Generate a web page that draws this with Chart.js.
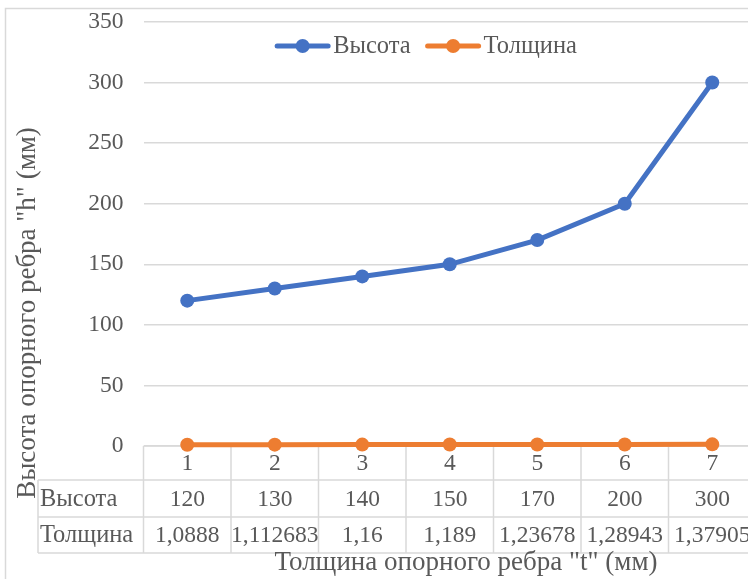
<!DOCTYPE html>
<html>
<head>
<meta charset="utf-8">
<script src="https://cdn.jsdelivr.net/npm/chart.js@4.4.1/dist/chart.umd.min.js"></script>
<style>
    html, body { margin: 0; padding: 0; background: #fff; }
    .wrap { width: 748px; height: 579px; overflow: hidden; position: relative; }
    #chart { position: absolute; left: 0; top: 0; }
</style>
</head>
<body>
<div class="wrap">
    <canvas id="chart" width="780" height="579"></canvas>
</div>
<script>
// data
const categories = ['1', '2', '3', '4', '5', '6', '7'];
const heightValues = [120, 130, 140, 150, 170, 200, 300];
const thicknessValues = [1.0888, 1.112683, 1.16, 1.189, 1.23678, 1.28943, 1.37905];
const thicknessLabels = ['1,0888', '1,112683', '1,16', '1,189', '1,23678', '1,28943', '1,37905'];
const yTicks = [0, 50, 100, 150, 200, 250, 300, 350];

const seriesNames = ['Высота', 'Толщина'];
const colors = ['#4472C4', '#ED7D31'];
const yTitle = 'Высота опорного ребра "h" (мм)';
const xTitle = 'Толщина опорного ребра "t" (мм)';

const FAMILY = "'Liberation Serif', 'Times New Roman', serif";
const NUM_FONT = "23.5px " + FAMILY;
const WORD_FONT = "24.5px " + FAMILY;
const TITLE_FONT = "27px " + FAMILY;
const TEXT = '#595959';
const GRID = '#d9d9d9';

// data table under the plot + legend + axis titles (excel style)
const extras = {
    id: 'extras',
    beforeDraw(chart) {
        const ctx = chart.ctx;
        ctx.save();
        ctx.fillStyle = '#fff';
        ctx.fillRect(0, 0, chart.width, chart.height);
        ctx.strokeStyle = GRID;
        ctx.lineWidth = 1.5;
        ctx.strokeRect(5.5, 8.5, 1000, 1000);
        ctx.restore();
    },
    beforeDatasetsDraw(chart) {
        const ctx = chart.ctx;
        const xs = chart.scales.x;
        const area = chart.chartArea;
        const step = (area.right - area.left) / categories.length;
        const rows = [area.bottom, 480, 517, 553];
        const headLeft = 38;

        ctx.save();
        ctx.strokeStyle = GRID;
        ctx.lineWidth = 1.5;
        ctx.beginPath();
        // horizontal lines
        ctx.moveTo(area.left, rows[0]); ctx.lineTo(area.right, rows[0]);
        for (let r = 1; r < rows.length; r++) {
            ctx.moveTo(headLeft, rows[r]); ctx.lineTo(area.right, rows[r]);
        }
        // vertical lines
        for (let i = 0; i <= categories.length; i++) {
            const x = area.left + i * step;
            ctx.moveTo(x, rows[0]); ctx.lineTo(x, rows[3]);
        }
        ctx.moveTo(headLeft, rows[1]); ctx.lineTo(headLeft, rows[3]);
        ctx.stroke();

        ctx.fillStyle = TEXT;
        ctx.font = NUM_FONT;
        ctx.textBaseline = 'middle';
        ctx.textAlign = 'center';
        categories.forEach((c, i) => {
            const x = xs.getPixelForValue(i);
            ctx.fillText(c, x, (rows[0] + rows[1]) / 2 + 1);
            ctx.fillText(String(heightValues[i]), x, (rows[1] + rows[2]) / 2 + 1);
            ctx.fillText(thicknessLabels[i], x, (rows[2] + rows[3]) / 2 + 1);
        });
        ctx.font = WORD_FONT;
        ctx.textAlign = 'left';
        ctx.fillText(seriesNames[0], 40, (rows[1] + rows[2]) / 2 + 1);
        ctx.fillText(seriesNames[1], 40, (rows[2] + rows[3]) / 2 + 1);
        ctx.restore();
    },
    afterDraw(chart) {
        const ctx = chart.ctx;
        ctx.save();
        ctx.font = WORD_FONT;
        ctx.fillStyle = TEXT;
        ctx.textBaseline = 'middle';

        // legend
        const sample = 55, gapText = 3, gapItem = 15;
        const widths = seriesNames.map(n => sample + gapText + ctx.measureText(n).width);
        const total = widths[0] + gapItem + widths[1];
        let x = 426 - total / 2;
        const ly = 46;
        seriesNames.forEach((n, i) => {
            ctx.strokeStyle = colors[i];
            ctx.lineWidth = 5;
            ctx.lineCap = 'round';
            ctx.beginPath();
            ctx.moveTo(x + 2, ly); ctx.lineTo(x + sample - 2, ly);
            ctx.stroke();
            ctx.fillStyle = colors[i];
            ctx.beginPath();
            ctx.arc(x + sample / 2, ly, 7, 0, Math.PI * 2);
            ctx.fill();
            ctx.fillStyle = TEXT;
            ctx.textAlign = 'left';
            ctx.fillText(n, x + sample + gapText, ly + 1);
            x += widths[i] + gapItem;
        });

        // axis titles
        ctx.font = TITLE_FONT;
        ctx.textAlign = 'center';
        ctx.fillText(xTitle, 466, 563);
        ctx.translate(28, 313);
        ctx.rotate(-Math.PI / 2);
        ctx.fillText(yTitle, 0, 0);
        ctx.restore();
    }
};

new Chart(document.getElementById('chart'), {
    type: 'line',
    data: {
        labels: categories,
        datasets: [
            {
                label: seriesNames[0],
                data: heightValues,
                borderColor: colors[0],
                backgroundColor: colors[0],
                borderWidth: 5,
                pointRadius: 7,
                pointBorderWidth: 0,
                pointBackgroundColor: colors[0],
                tension: 0,
                clip: false
            },
            {
                label: seriesNames[1],
                data: thicknessValues,
                borderColor: colors[1],
                backgroundColor: colors[1],
                borderWidth: 5,
                pointRadius: 7,
                pointBorderWidth: 0,
                pointBackgroundColor: colors[1],
                tension: 0,
                clip: false
            }
        ]
    },
    options: {
        responsive: false,
        animation: false,
        devicePixelRatio: 1,
        layout: { padding: { left: 0, top: 22, right: 24, bottom: 133 } },
        plugins: {
            legend: { display: false },
            tooltip: { enabled: false }
        },
        scales: {
            x: {
                display: false,
                offset: true
            },
            y: {
                min: 0,
                max: 350,
                afterBuildTicks: (scale) => { scale.ticks = yTicks.map(v => ({ value: v })); },
                afterFit: (scale) => {
                    scale.width = 143.5;
                    scale.paddingTop = 0;
                    scale.paddingBottom = 0;
                },
                ticks: {
                    color: TEXT,
                    padding: 20,
                    font: { family: FAMILY, size: 23.5 }
                },
                grid: { color: GRID, lineWidth: 1.5, drawTicks: false },
                border: { display: false }
            }
        }
    },
    plugins: [extras]
});
</script>
</body>
</html>
